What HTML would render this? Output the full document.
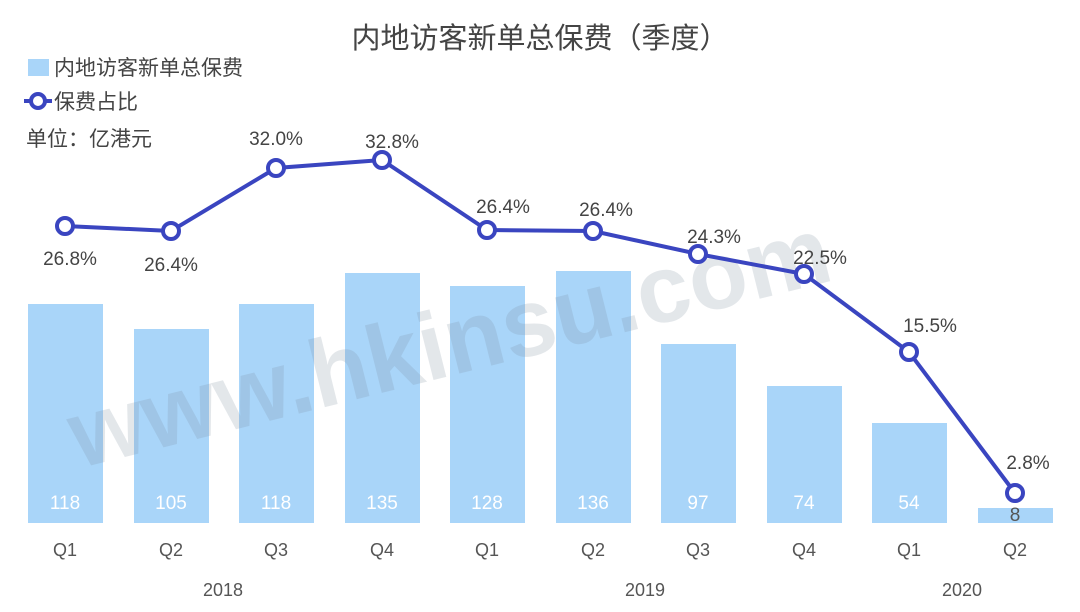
<!DOCTYPE html>
<html><head><meta charset="utf-8"><style>
body{margin:0;background:#fff;}
svg text{font-family:"Liberation Sans","Noto Sans CJK SC",sans-serif;}
</style></head><body>
<svg width="1080" height="607" viewBox="0 0 1080 607" xmlns="http://www.w3.org/2000/svg">
<rect width="1080" height="607" fill="#fff"/>
<text x="540" y="48" text-anchor="middle" font-size="29" fill="#444">内地访客新单总保费（季度）</text>
<rect x="28" y="59" width="21" height="17" fill="#a9d5f9"/>
<text x="54" y="75" font-size="21" fill="#444">内地访客新单总保费</text>
<line x1="24" y1="101" x2="52" y2="101" stroke="#3a45c0" stroke-width="4"/>
<circle cx="38" cy="101" r="7" fill="#fff" stroke="#3a45c0" stroke-width="4"/>
<text x="54" y="109" font-size="21" fill="#444">保费占比</text>
<text x="26" y="146" font-size="21" fill="#444">单位：亿港元</text>
<g fill="#a9d5f9">
<rect x="28" y="304" width="75" height="219"/>
<rect x="134" y="329" width="75" height="194"/>
<rect x="239" y="304" width="75" height="219"/>
<rect x="345" y="273" width="75" height="250"/>
<rect x="450" y="286" width="75" height="237"/>
<rect x="556" y="271" width="75" height="252"/>
<rect x="661" y="344" width="75" height="179"/>
<rect x="767" y="386" width="75" height="137"/>
<rect x="872" y="423" width="75" height="100"/>
<rect x="978" y="508" width="75" height="15"/>
</g>
<text x="450" y="375" text-anchor="middle" font-size="96" font-weight="bold" fill="#7a8a9c" opacity="0.2" transform="rotate(-14 450 345)">www.hkinsu.com</text>
<g font-size="19" fill="#fff" text-anchor="middle">
<text x="65" y="509">118</text><text x="171" y="509">105</text><text x="276" y="509">118</text><text x="382" y="509">135</text><text x="487" y="509">128</text><text x="593" y="509">136</text><text x="698" y="509">97</text><text x="804" y="509">74</text><text x="909" y="509">54</text><text x="1015" y="521" fill="#555">8</text>
</g>
<polyline fill="none" stroke="#3a45c0" stroke-width="4" points="65,226 171,231 276,168 382,160 487,230 593,231 698,254 804,274 909,352 1015,493"/>
<g fill="#fff" stroke="#3a45c0" stroke-width="4">
<circle cx="65" cy="226" r="8"/><circle cx="171" cy="231" r="8"/><circle cx="276" cy="168" r="8"/><circle cx="382" cy="160" r="8"/><circle cx="487" cy="230" r="8"/><circle cx="593" cy="231" r="8"/><circle cx="698" cy="254" r="8"/><circle cx="804" cy="274" r="8"/><circle cx="909" cy="352" r="8"/><circle cx="1015" cy="493" r="8"/>
</g>
<g font-size="19" fill="#444" text-anchor="middle">
<text x="70" y="265">26.8%</text><text x="171" y="271">26.4%</text><text x="276" y="145">32.0%</text><text x="392" y="148">32.8%</text><text x="503" y="213">26.4%</text><text x="606" y="216">26.4%</text><text x="714" y="243">24.3%</text><text x="820" y="264">22.5%</text><text x="930" y="332">15.5%</text><text x="1028" y="469">2.8%</text>
</g>
<g font-size="18" fill="#555" text-anchor="middle">
<text x="65" y="556">Q1</text><text x="171" y="556">Q2</text><text x="276" y="556">Q3</text><text x="382" y="556">Q4</text><text x="487" y="556">Q1</text><text x="593" y="556">Q2</text><text x="698" y="556">Q3</text><text x="804" y="556">Q4</text><text x="909" y="556">Q1</text><text x="1015" y="556">Q2</text>
<text x="223" y="596">2018</text><text x="645" y="596">2019</text><text x="962" y="596">2020</text>
</g>
</svg>
</body></html>
